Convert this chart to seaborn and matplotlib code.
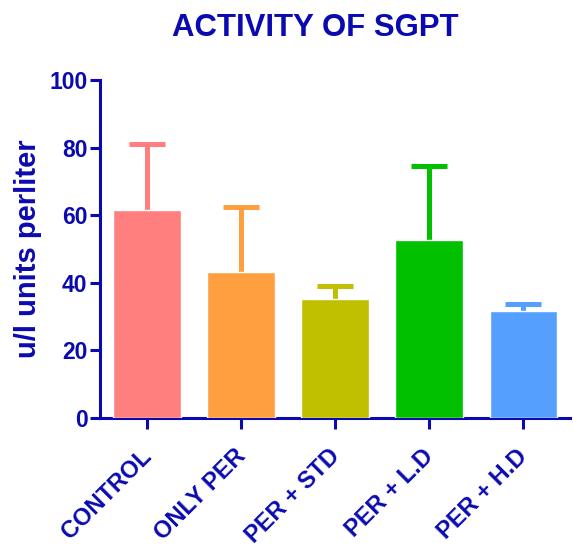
import matplotlib
matplotlib.use("Agg")
import matplotlib.pyplot as plt
import matplotlib.transforms as mtransforms
import seaborn as sns
import pandas as pd
import numpy as np

groups = ["CONTROL", "ONLY PER", "PER + STD", "PER + L.D", "PER + H.D"]
means = [61.5, 43.1, 35.3, 52.6, 31.8]
errors = [19.5, 19.2, 3.9, 21.9, 1.8]
colors = ["#FF7F7F", "#FF9F40", "#C0C000", "#00C000", "#55A0FF"]
yticks = [0, 20, 40, 60, 80, 100]

navy = "#0A0AB0"

sns.set_theme(style="white")
plt.rcParams["font.family"] = ["Liberation Sans", "DejaVu Sans"]
plt.rcParams["font.weight"] = "bold"

df = pd.DataFrame({"group": groups, "value": means})

fig = plt.figure(figsize=(5.73, 5.47), dpi=100)
ax = fig.add_axes([0.1745, 0.2358, 0.8205, 0.6179])

sns.barplot(data=df, x="group", y="value", hue="group", palette=colors,
            legend=False, width=0.715, saturation=1, ax=ax, errorbar=None,
            zorder=3)

xs = np.arange(len(groups))
for x, m, e, c in zip(xs, means, errors, colors):
    eb = ax.errorbar(x, m, yerr=[[0], [e]], fmt="none", ecolor=c,
                     elinewidth=3.6, capsize=13, capthick=3.6, zorder=2)
    caps = eb[1]
    if len(caps) > 1:
        caps[0].set_visible(False)
    for cap in caps:
        cap.set_solid_capstyle("round")

ax.set_ylim(0, 100)
ax.set_xlim(-0.5, 4.5)
ax.set_yticks(yticks)
ax.set_yticklabels([str(t) for t in yticks], fontsize=16.5, fontweight="bold", color=navy)
ax.set_xticks(xs)
ax.set_xticklabels(groups, rotation=45, ha="right", rotation_mode="anchor",
                   fontsize=17, fontweight="bold", color=navy)
ax.set_xlabel("")
ax.set_ylabel("u/l units perliter", fontsize=21, fontweight="bold", color=navy, labelpad=5)
fig.text(315 / 573, 1 - 28 / 547, "ACTIVITY OF SGPT", fontsize=22.4, fontweight="bold",
         color=navy, ha="center", va="center")

for s in ["top", "right"]:
    ax.spines[s].set_visible(False)
for s in ["left", "bottom"]:
    ax.spines[s].set_color(navy)
    ax.spines[s].set_linewidth(2.2)
ax.tick_params(axis="both", which="both", direction="out", color=navy,
               width=2.2, length=7, bottom=True, left=True)
ax.tick_params(axis="x", length=8, pad=11)
ax.tick_params(axis="y", pad=2)
ax.grid(False)

offset = mtransforms.ScaledTranslation(-7 / 100, 0, fig.dpi_scale_trans)
for lbl in ax.get_xticklabels():
    lbl.set_transform(lbl.get_transform() + offset)

fig.savefig("out.png", dpi=100)
